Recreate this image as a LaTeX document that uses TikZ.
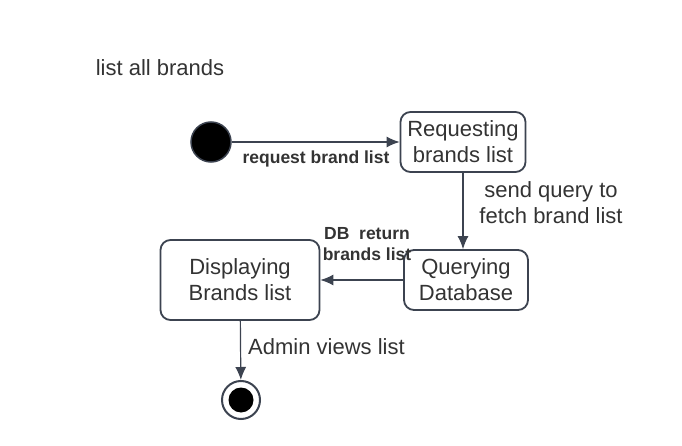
\documentclass[tikz,border=0pt]{standalone}
\usepackage{fontspec}
\setmainfont{Liberation Sans}
\usetikzlibrary{arrows.meta,positioning}
\definecolor{dark}{HTML}{333333}
\definecolor{edgegray}{HTML}{3C4350}
\tikzset{
  statebox/.style={draw=edgegray, rounded corners=10pt, line width=1.8pt, align=center, fill=white, text=dark, font=\fontsize{22}{26}\selectfont, inner sep=0pt},
  startdot/.style={circle, fill=black, draw=edgegray, line width=1.5pt, minimum size=40pt, inner sep=0pt},
  endring/.style={circle, draw=edgegray, line width=2pt, fill=white, minimum size=38pt, inner sep=0pt},
  enddot/.style={circle, fill=black, minimum size=25pt, inner sep=0pt},
  plainlabel/.style={text=dark, font=\fontsize{22}{26}\selectfont, align=center, inner sep=0pt},
  boldlabel/.style={text=dark, font=\fontsize{17.5}{21}\selectfont\bfseries, align=center, inner sep=0pt},
  arrow/.style={-{Latex[length=13pt,width=11pt]}, line width=1.2pt, draw=edgegray}
}

\begin{document}
\begin{tikzpicture}[x=1pt, y=-1pt]
  \useasboundingbox (0,0) rectangle (682,446);
  \node[plainlabel] (title) at (160,68) {list all brands};
  \node[startdot] (start) at (211,142) {};
  \node[statebox, minimum width=125pt, minimum height=60pt] (req) at (463,142) {Requesting\\brands list};
  \node[statebox, minimum width=124pt, minimum height=60pt] (qry) at (466,280) {Querying\\Database};
  \node[statebox, minimum width=159pt, minimum height=80pt] (disp) at (240,280) {Displaying\\Brands list};
  \node[endring] (end) at (241,400) {};
  \node[enddot] (endin) at (end) {};
  \draw[arrow] (start) -- (req);
  \draw[arrow] (req) -- (req |- qry.north);
  \draw[arrow] (qry) -- (disp);
  \draw[arrow] (disp) -- (end);
  \node[boldlabel] (lblreq) at (316,159) {request brand list};
  \node[plainlabel] (lblqry) at (551,203) {send query to\\fetch brand list};
  \node[boldlabel] (lbldb) at (367,244) {DB\ \ return\\brands list};
  \node[plainlabel, anchor=west] (lbladm) at (248,347) {Admin views list};
\end{tikzpicture}
\end{document}
